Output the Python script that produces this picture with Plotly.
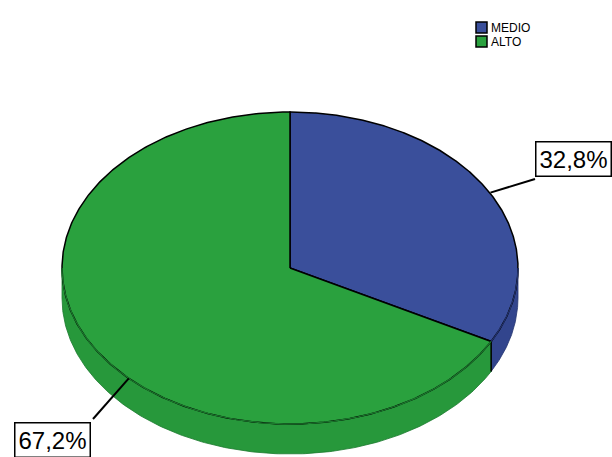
import numpy as np
import plotly.graph_objects as go

# Data
categories = ["MEDIO", "ALTO"]
percentages = [32.8, 67.2]
label_texts = ["32,8%", "67,2%"]

# Styling
top_colors = ["#3a4f9b", "#2aa13e"]
side_colors = ["#32458d", "#27983b"]
edge_colors = ["#23336e", "#1c7a2e"]

W, H = 612, 457
cx, cy = 290, 268          # centre of the top face (pixels)
rx, ry = 228, 156          # ellipse radii
depth = 30                 # thickness of the disc


def ellipse_pts(t_deg, dy=0.0):
    t = np.radians(t_deg)
    return cx + rx * np.sin(t), cy - ry * np.cos(t) + dy


fig = go.Figure()

# slice angle limits, clockwise from 12 o'clock
bounds = np.concatenate([[0], np.cumsum(percentages) / sum(percentages) * 360])

# side walls (front half only: 90..270 deg)
for i in range(len(categories)):
    a, b = max(bounds[i], 90), min(bounds[i + 1], 270)
    if b <= a:
        continue
    t = np.linspace(a, b, 200)
    xt, yt = ellipse_pts(t)
    xb, yb = ellipse_pts(t[::-1], depth)
    fig.add_trace(go.Scatter(
        x=np.concatenate([xt, xb, xt[:1]]), y=np.concatenate([yt, yb, yt[:1]]),
        fill="toself", fillcolor=side_colors[i], mode="lines",
        line=dict(color=edge_colors[i], width=0.8), hoverinfo="skip", showlegend=False))
    # vertical edge where slices meet on the wall
    if a == bounds[i] and a > 90:
        x0, y0 = ellipse_pts(a)
        fig.add_trace(go.Scatter(x=[x0, x0], y=[y0, y0 + depth], mode="lines",
                                 line=dict(color="black", width=1.5),
                                 hoverinfo="skip", showlegend=False))

# top faces
for i in range(len(categories)):
    t = np.linspace(bounds[i], bounds[i + 1], 400)
    xs, ys = ellipse_pts(t)
    fig.add_trace(go.Scatter(
        x=np.concatenate([[cx], xs, [cx]]), y=np.concatenate([[cy], ys, [cy]]),
        fill="toself", fillcolor=top_colors[i], mode="lines",
        line=dict(color="black", width=1.5), hoverinfo="skip", showlegend=False))

# front rim of the top face drawn softer
t = np.linspace(max(bounds[1], 90), 270, 300)
xs, ys = ellipse_pts(t)
fig.add_trace(go.Scatter(x=xs, y=ys, mode="lines", line=dict(color=edge_colors[1], width=1.2),
                         hoverinfo="skip", showlegend=False))
t = np.linspace(90, bounds[1], 60)
xs, ys = ellipse_pts(t)
fig.add_trace(go.Scatter(x=xs, y=ys, mode="lines", line=dict(color=edge_colors[0], width=1.2),
                         hoverinfo="skip", showlegend=False))

# percentage labels with leader lines
label_boxes = [dict(x=573, y=159), dict(x=52, y=440)]
leader_start = [59, 225]
leader_end = [(535, 179), (93, 419)]
annotations = []
shapes = []
for i, txt in enumerate(label_texts):
    sx, sy = ellipse_pts(leader_start[i])
    if i == 0:
        sx, sy = sx + 5, sy + 5
    ex, ey = leader_end[i]
    shapes.append(dict(type="line", xref="x", yref="y", x0=sx, y0=sy, x1=ex, y1=ey,
                       line=dict(color="black", width=2)))
    annotations.append(dict(x=label_boxes[i]["x"], y=label_boxes[i]["y"], xref="x", yref="y",
                            text=txt, showarrow=False, bgcolor="white", bordercolor="black",
                            borderwidth=1.5, borderpad=3,
                            font=dict(family="Liberation Sans, Arial", size=24, color="black")))

# legend
for i, name in enumerate(categories):
    y0 = 22 + i * 14
    shapes.append(dict(type="rect", xref="x", yref="y", x0=476, x1=487, y0=y0, y1=y0 + 11,
                       fillcolor=top_colors[i], line=dict(color="black", width=1.5)))
    annotations.append(dict(x=489, y=y0 + 5.5, xref="x", yref="y", text=name, showarrow=False,
                            xanchor="left", yanchor="middle",
                            font=dict(family="Liberation Sans, Arial", size=12, color="black")))

fig.update_layout(
    width=W, height=H, autosize=False,
    margin=dict(l=0, r=0, t=0, b=0),
    paper_bgcolor="white", plot_bgcolor="white",
    xaxis=dict(range=[0, W], visible=False, fixedrange=True),
    yaxis=dict(range=[H, 0], visible=False, fixedrange=True),
    shapes=shapes, annotations=annotations, showlegend=False,
)

fig.write_html("out.html")
